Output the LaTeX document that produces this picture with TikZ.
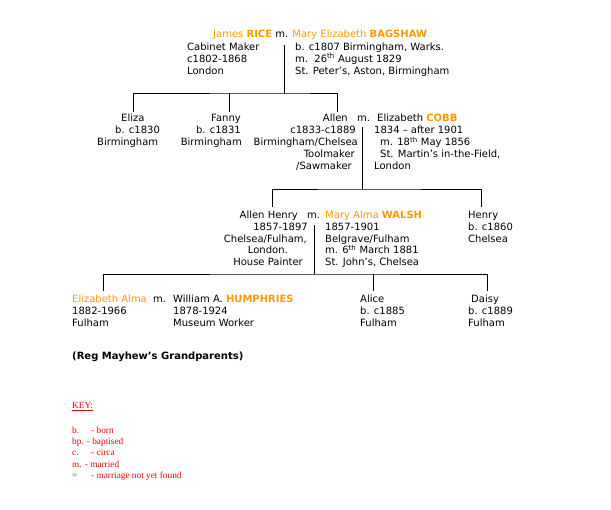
\documentclass[tikz,border=0pt]{standalone}
\usepackage{fontspec}
\setmainfont{DejaVu Sans}
\newfontfamily\keyfont{Liberation Serif}
\usepackage{tikz}
\definecolor{surname}{RGB}{255,153,0}
\definecolor{keyred}{RGB}{255,0,0}
\newcommand{\orn}[1]{\textcolor{surname}{#1}}
\newcommand{\sur}[1]{\textbf{#1}}
\newcommand{\pad}[1]{\rule{#1}{0pt}}
% multi-line nodes sit on the baseline of their last line
\tikzstyle{person}=[inner sep=0pt, align=left, anchor=base west, font=\fontsize{10}{11.9}\selectfont]
\tikzstyle{rperson}=[person, align=right, anchor=base east]
\tikzstyle{branch}=[draw, line width=0.9pt]
\tikzstyle{keytext}=[inner sep=0pt, align=left, anchor=base west, text=keyred, font=\keyfont\fontsize{9.3}{11.3}\selectfont]

\begin{document}
\begin{tikzpicture}[x=1pt, y=-1pt]
      \fill[white] (0,0) rectangle (611,510);
      \useasboundingbox (0,0) rectangle (611,510);

      % James RICE and Mary Elizabeth BAGSHAW
      \node[person] (rice)  at (213,38)   {\orn{James \sur{RICE}} m. \orn{Mary Elizabeth \sur{BAGSHAW}}};
      \node[person] (james) at (187,74.5) {Cabinet Maker\\c1802-1868\\London};
      \node[person] (mary)  at (295,74.5) {b. c1807 Birmingham, Warks.\\m.\ \ 26\textsuperscript{th} August 1829\\St. Peter’s, Aston, Birmingham};

      % their children
      \node[person]  (eliza) at (97,145.8)  {\pad{24pt}Eliza\\\pad{18pt}b. c1830\\Birmingham};
      \node[rperson] (fanny) at (242,145.8) {Fanny\pad{1pt}\\b. c1831\pad{1pt}\\Birmingham};
      \node[rperson] (allen) at (358,169.6) {Allen\pad{10pt}\\c1833-c1889\pad{2pt}\\Birmingham/Chelsea\\Toolmaker\pad{3pt}\\/Sawmaker\pad{6pt}};
      \node[person]  (allen-m) at (357,122) {m.};
      \node[person]  (cobb)  at (374,169.6) {\pad{3pt}Elizabeth \orn{\sur{COBB}}\\1834 – after 1901\\\pad{6pt}m. 18\textsuperscript{th} May 1856\\\pad{6pt}St. Martin’s in-the-Field,\\London};

      % Allen and Elizabeth's children
      \node[rperson] (allenhenry) at (308,265.9) {Allen Henry\pad{10pt}\\1857-1897\\Chelsea/Fulham,\pad{1pt}\\London.\pad{20pt}\\House Painter\pad{5pt}};
      \node[person]  (allenhenry-m) at (307,218.3) {m.};
      \node[person]  (walsh) at (325,265.9) {\orn{Mary Alma \sur{WALSH}}\\1857-1901\\Belgrave/Fulham\\m. 6\textsuperscript{th} March 1881\\St. John’s, Chelsea};
      \node[person]  (henry) at (468,242.1) {Henry\\b. c1860\\Chelsea};

      % Allen Henry and Mary Alma's children
      \node[person] (alma)    at (72,326.1)  {\orn{Elizabeth Alma}\\1882-1966\\Fulham};
      \node[person] (alma-m)  at (153,302.3) {m.};
      \node[person] (william) at (173,326.1) {William A. \orn{\sur{HUMPHRIES}}\\1878-1924\\Museum Worker};
      \node[person] (alice)   at (360,326.1) {Alice\\b. c1885\\Fulham};
      \node[person] (daisy)   at (468,326.1) {\pad{3pt}Daisy\\b. c1889\\Fulham};

      \node[person] (note) at (72,360) {\sur{(Reg Mayhew’s Grandparents)}};

      % key
      \node[keytext] (keyhead)  at (72,409)   {\underline{KEY:}};
      \node[keytext] (keyitems) at (72,478.5) {\makebox[19pt][l]{b.}- born\\bp. - baptised\\\makebox[19pt][l]{c.}- circa\\m. - married\\\makebox[19pt][l]{=}- marriage not yet found};

      % tree lines
      \coordinate (rice-drop)  at (284,45);
      \coordinate (rice-bar)   at (284,93);
      \coordinate (eliza-top)  at (133,112);
      \coordinate (fanny-top)  at (229,112);
      \coordinate (allen-top)  at (337,112);
      \draw[branch] (rice-drop) -- (rice-bar);
      \draw[branch] (eliza-top) |- (rice-bar) -| (allen-top);
      \draw[branch] (fanny-top) -- (fanny-top |- rice-bar);

      \coordinate (cobb-drop)      at (362,127);
      \coordinate (cobb-bar)       at (362,189);
      \coordinate (allenhenry-top) at (272,207);
      \coordinate (henry-top)      at (481,207);
      \draw[branch] (cobb-drop) -- (cobb-bar);
      \draw[branch] (allenhenry-top) |- (cobb-bar) -| (henry-top);

      \coordinate (walsh-drop) at (314,225);
      \coordinate (walsh-bar)  at (314,274);
      \coordinate (alma-top)   at (103,291);
      \coordinate (alice-top)  at (373,291);
      \coordinate (daisy-top)  at (487,291);
      \draw[branch] (walsh-drop) -- (walsh-bar);
      \draw[branch] (alma-top) |- (walsh-bar) -| (daisy-top);
      \draw[branch] (alice-top) -- (alice-top |- walsh-bar);
    \end{tikzpicture}
\end{document}
